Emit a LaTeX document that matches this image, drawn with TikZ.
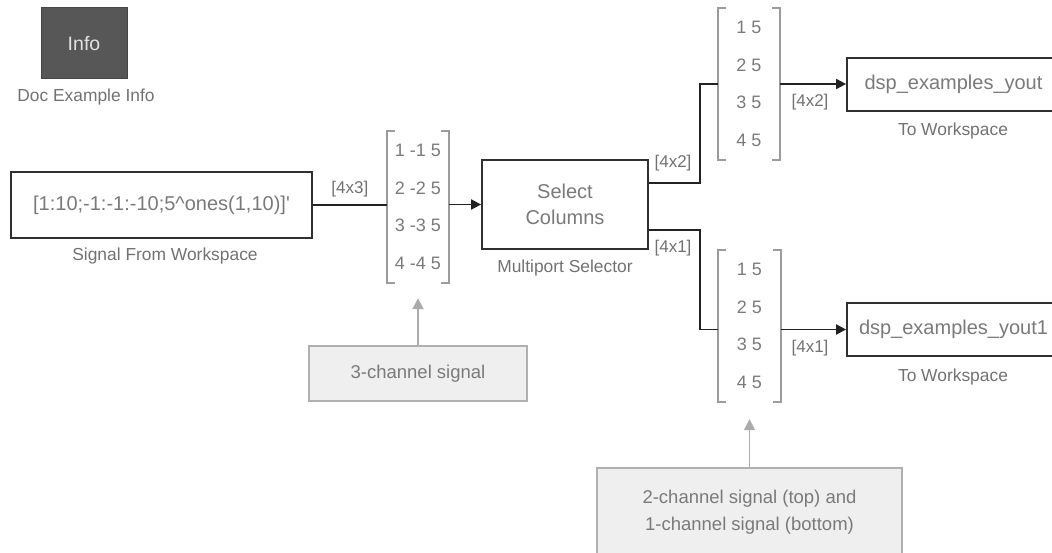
\documentclass[tikz,border=0pt]{standalone}
\usepackage{fontspec}
\setmainfont{Liberation Sans}[Ligatures=TeXOff]
\usetikzlibrary{arrows.meta,calc}
\definecolor{linec}{HTML}{222222}
\definecolor{boxline}{HTML}{303030}
\definecolor{textgray}{HTML}{7A7A7A}
\definecolor{labelgray}{HTML}{727272}
\definecolor{brkgray}{HTML}{9C9C9C}
\definecolor{notefill}{HTML}{EFEFEF}
\definecolor{noteline}{HTML}{B0B0B0}
\definecolor{notearrowc}{HTML}{ABABAB}
\definecolor{infofill}{HTML}{575757}
\definecolor{infotext}{HTML}{E2E2E2}
\begin{document}
\begin{tikzpicture}[x=1pt,y=-1pt,
  blk/.style={draw=boxline, line width=1.8pt, fill=white, inner sep=0pt,
    font=\fontsize{20}{26}\selectfont, text=textgray, align=center},
  infobox/.style={draw=infofill!80!black, line width=1pt, fill=infofill, inner sep=0pt,
    font=\fontsize{19.5}{22}\selectfont, text=infotext},
  lbl/.style={font=\fontsize{17.4}{20}\selectfont, text=labelgray, inner sep=0pt},
  sig/.style={font=\fontsize{17}{20}\selectfont, text=labelgray, inner sep=0pt},
  mat/.style={minimum width=62pt, minimum height=152pt, inner sep=0pt, align=center,
    font=\fontsize{18}{37.7}\selectfont, text=textgray},
  brk/.style={draw=brkgray, line width=1.8pt},
  conn/.style={draw=linec, line width=1.8pt},
  arr/.style={-{Triangle[length=10pt,width=10pt]}},
  note/.style={draw=noteline, line width=1.5pt, fill=notefill, inner sep=0pt, align=center,
    font=\fontsize{18.5}{27}\selectfont, text=textgray},
  notearr/.style={draw=notearrowc, line width=1.8pt, -{Triangle[length=11pt,width=11pt]}}
]
\useasboundingbox (0,0) rectangle (1052,553);
\clip (0,0) rectangle (1052,553);

% Info block
\node[infobox, minimum width=86pt, minimum height=71pt] (info) at (84,43.5) {Info};
\node[lbl] (infol) at (86,97) {Doc Example Info};

% Signal From Workspace
\node[blk, minimum width=301pt, minimum height=66pt] (sfw) at (161.5,205) {[1:10;-1:-1:-10;5\char`^ones(1,10)]'};
\node[lbl] (sfwl) at (165,256) {Signal From Workspace};

% matrix 1
\node[mat] (m1) at (418,207) {1 -1 5\\2 -2 5\\3 -3 5\\4 -4 5};
\draw[brk] ($(m1.north west)+(8,0)$) -- (m1.north west) -- (m1.south west) -- ++(8,0);
\draw[brk] ($(m1.north east)+(-8,0)$) -- (m1.north east) -- (m1.south east) -- ++(-8,0);

% Multiport selector
\node[blk, minimum width=166pt, minimum height=89pt] (sel) at (565,204.5) {Select\\Columns};
\node[lbl] (sell) at (565,268) {Multiport Selector};

% matrix 2 and 3
\node[mat] (m2) at (749,84) {1 5\\2 5\\3 5\\4 5};
\draw[brk] ($(m2.north west)+(8,0)$) -- (m2.north west) -- (m2.south west) -- ++(8,0);
\draw[brk] ($(m2.north east)+(-8,0)$) -- (m2.north east) -- (m2.south east) -- ++(-8,0);
\node[mat] (m3) at (749.5,326) {1 5\\2 5\\3 5\\4 5};
\draw[brk] ($(m3.north west)+(8,0)$) -- (m3.north west) -- (m3.south west) -- ++(8,0);
\draw[brk] ($(m3.north east)+(-8,0)$) -- (m3.north east) -- (m3.south east) -- ++(-8,0);

% To Workspace blocks
\node[blk, minimum width=213pt, minimum height=53pt] (tw1) at (953.5,84.5) {dsp\_examples\_yout};
\node[lbl] (tw1l) at (953,131) {To Workspace};
\node[blk, minimum width=213pt, minimum height=53pt] (tw2) at (953.5,329.5) {dsp\_examples\_yout1};
\node[lbl] (tw2l) at (953,377) {To Workspace};

% connectors
\draw[conn] (sfw.east) -- node[sig, above=7pt] (l43) {[4x3]} (sfw.east -| m1.west);
\draw[conn, arr] (m1.east |- sel.west) -- (sel.west);
\draw[conn] ($(sel.east)+(0,-21.5)$) -- ++(51,0) |- (m2.west);
\node[sig] (l42a) at (673,163) {[4x2]};
\draw[conn] ($(sel.east)+(0,25.5)$) -- ++(51,0) |- (m3.west |- tw2.west);
\node[sig] (l41a) at (673,248) {[4x1]};
\draw[conn, arr] (m2.east) -- (m2.east -| tw1.west);
\node[sig] (l42b) at (810,102) {[4x2]};
\draw[conn, arr] (m3.east |- tw2.west) -- (tw2.west);
\node[sig] (l41b) at (810,348) {[4x1]};

% annotations
\node[note, minimum width=218pt, minimum height=55pt] (n1) at (418,373.5) {3-channel signal};
\draw[notearr] (n1.north) -- ($(m1.south)+(0,15)$);
\node[note, minimum width=305pt, minimum height=89pt] (n2) at (749.5,512.5) {2-channel signal (top) and\\1-channel signal (bottom)};
\draw[notearr] (n2.north) -- ($(m3.south)+(0,17)$);
\end{tikzpicture}
\end{document}
